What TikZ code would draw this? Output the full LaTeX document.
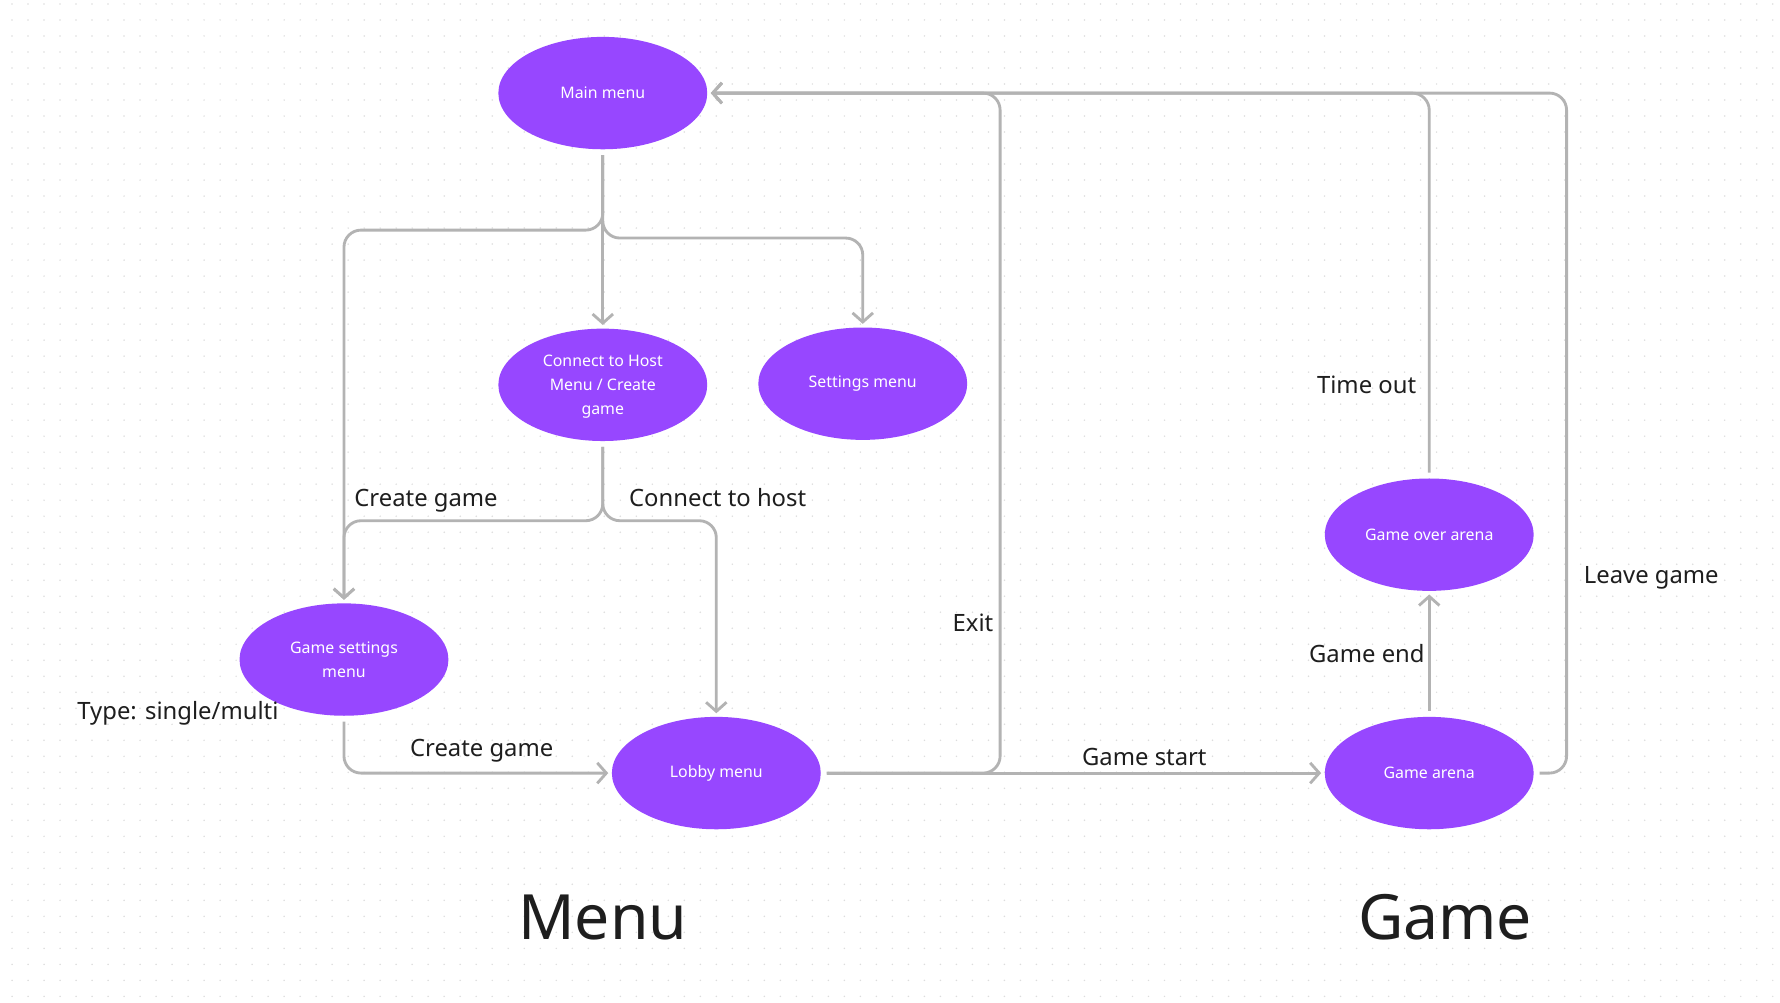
\documentclass[tikz,border=0pt]{standalone}
\usepackage{fontspec}
\setmainfont{Noto Sans}
\usetikzlibrary{shapes.geometric,arrows.meta,calc}
\definecolor{purp}{HTML}{9747FF}
\definecolor{connc}{HTML}{B3B3B3}
\definecolor{ink}{HTML}{1E1E1E}
\definecolor{dotc}{HTML}{DDDDDD}
\begin{document}
\begin{tikzpicture}[x=1pt,y=-1pt,
  state/.style={ellipse, fill=purp, minimum width=184pt, minimum height=99pt, inner sep=0pt, text=white, font=\fontsize{14}{21.5}\selectfont, align=center},
  link/.style={draw=connc, line width=2.5pt, rounded corners=15pt, shorten <=5pt, shorten >=3pt, -{Straight Barb[length=8pt,width=18pt]}},
  lbl/.style={text=ink, font=\fontsize{21}{25}\selectfont, inner sep=0pt, anchor=base west},
  title/.style={text=ink, font=\fontsize{55}{62}\selectfont, inner sep=0pt, anchor=base}]
\fill[white] (0,0) rectangle (1568,883);
\useasboundingbox (0,0) rectangle (1568,883);
% dot grid
\foreach \i in {0,...,110} {
  \foreach \j in {0,...,62} {
    \fill[dotc] (10.6+\i*14.1, 3.5+\j*14.1) circle (0.75);
  }
}
% states
\node[state] (main) at (531,82) {Main menu};
\node[state, text depth=0pt] (con) at (531,339) {Connect to Host\\Menu / Create\\game};
\node[state] (set) at (760,338) {Settings menu};
\node[state] (gs) at (303,581) {Game settings\\menu};
\node[state] (lob) at (631,681) {Lobby menu};
\node[state] (gover) at (1259,471) {Game over arena};
\node[state] (ga) at (1259,681) {Game arena};
% helper coordinates
\coordinate (exitx) at (881,0);
\coordinate (leavex) at (1380,0);
% connectors
\draw[link] (main.south) -- ++(0,71) -| (gs.north);
\draw[link] (main.south) -- (con.north);
\draw[link] (main.south) -- ++(0,78) -| (set.north);
\draw[link] (con.south) -- ++(0,70) -| (gs.north);
\draw[link] (con.south) -- ++(0,70) -| (lob.north);
\draw[link] (gs.south) |- (lob.west);
\draw[link] (lob.east) -- (lob.east -| exitx) |- (main.east);
\draw[link] (lob.east) -- (ga.west);
\draw[link] (ga.north) -- (gover.south);
\draw[link] (gover.north) |- (main.east);
\draw[link] (ga.east) -- (ga.east -| leavex) |- (main.east);
% labels
\node[lbl] (l1) at (312,446) {Create game};
\node[lbl] (l2) at (554,446) {Connect to host};
\node[lbl] (l3) at (68,634) {Type: single/multi};
\node[lbl] (l4) at (361,666) {Create game};
\node[lbl] (l5) at (839,556) {Exit};
\node[lbl] (l6) at (953,674) {Game start};
\node[lbl] (l7) at (1160,347) {Time out};
\node[lbl] (l8) at (1153,584) {Game end};
\node[lbl] (l9) at (1395,514) {Leave game};
\node[title] (t1) at (531,828) {Menu};
\node[title] (t2) at (1273,828) {Game};
\end{tikzpicture}
\end{document}
